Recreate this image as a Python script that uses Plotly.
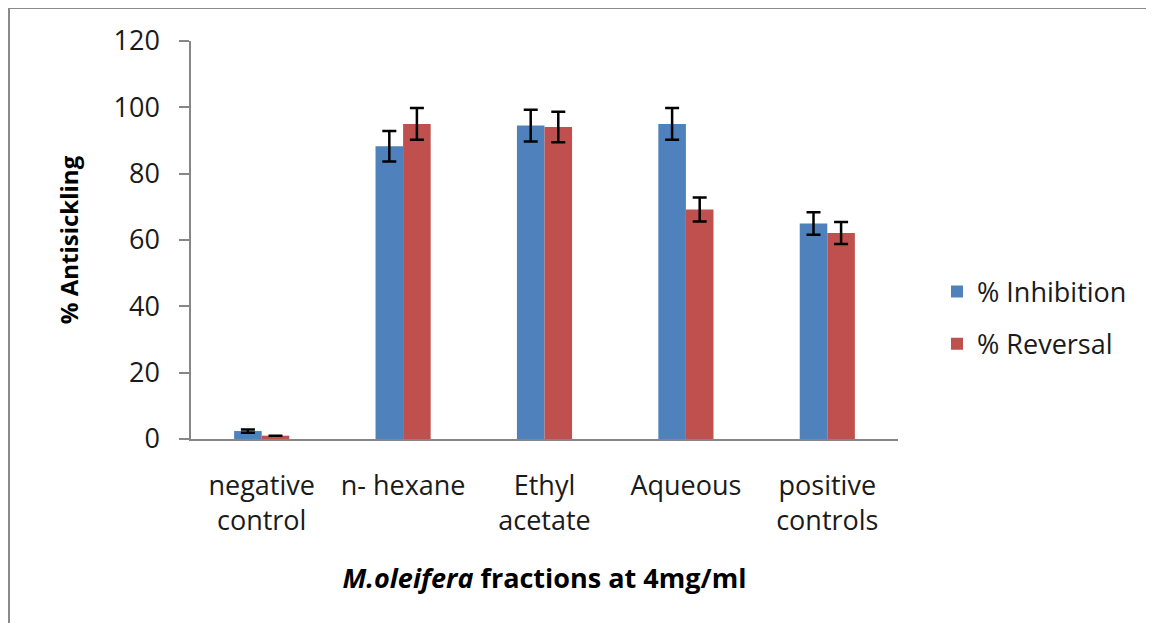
import plotly.graph_objects as go

categories = ["negative<br>control", "n- hexane", "Ethyl<br>acetate", "Aqueous", "positive<br>controls"]
inhibition = [2.4, 88.3, 94.5, 95.0, 65.0]
inhibition_err = [0.5, 4.6, 4.8, 4.8, 3.4]
reversal = [1.0, 95.0, 94.1, 69.2, 62.1]
reversal_err = [0.0, 4.8, 4.6, 3.6, 3.3]

FONT = "Open Sans"
GRAY = "#868686"
TXT = "#1a1a1a"

fig = go.Figure()
fig.add_trace(go.Bar(
    x=categories, y=inhibition, name="% Inhibition",
    marker=dict(color="#4F81BD", line=dict(width=0)),
    error_y=dict(type="data", array=inhibition_err, visible=True,
                 color="black", thickness=2.5, width=7),
    legendgroup="a",
))
fig.add_trace(go.Bar(
    x=categories, y=reversal, name="% Reversal",
    marker=dict(color="#C0504D", line=dict(width=0)),
    error_y=dict(type="data", array=reversal_err, visible=True,
                 color="black", thickness=2.5, width=7),
    legendgroup="b",
))

# figure is placed at an 8px body offset in the page
W, H = 1146, 615
L, R, T, B = 183, 256, 33, 184
pw, ph = W - L - R, H - T - B

fig.update_layout(
    width=W, height=H,
    margin=dict(l=L, r=R, t=T, b=B, pad=0),
    paper_bgcolor="white", plot_bgcolor="white",
    barmode="group", bargap=0.61, bargroupgap=0,
    font=dict(family=FONT, size=27, color=TXT),
    showlegend=True,
    legend=dict(
        x=(929 - L) / pw, y=(431 - 310) / ph, xanchor="left", yanchor="middle",
        font=dict(family=FONT, size=27, color=TXT),
        traceorder="grouped", tracegroupgap=14,
        bgcolor="rgba(0,0,0,0)",
    ),
    xaxis=dict(
        showline=True, linecolor=GRAY, linewidth=1.5,
        ticks="", tickfont=dict(family=FONT, size=27, color=TXT),
        ticklabelstandoff=22,
        title=dict(text="<b><i>M.oleifera</i> fractions at 4mg/ml</b>",
                   font=dict(family=FONT, size=27, color="black"), standoff=32),
        showgrid=False, zeroline=False,
    ),
    yaxis=dict(
        range=[0, 120], tickvals=[0, 20, 40, 60, 80, 100, 120],
        showline=True, linecolor=GRAY, linewidth=1.5,
        ticks="outside", ticklen=10, tickcolor=GRAY, tickwidth=1.5,
        tickfont=dict(family=FONT, size=27, color=TXT),
        ticklabelstandoff=14,
        title=dict(text="<b>% Antisickling</b>",
                   font=dict(family=FONT, size=24, color="black"), standoff=28),
        showgrid=False, zeroline=False,
    ),
    shapes=[
        dict(type="line", xref="paper", yref="paper",
             x0=(0 - L) / pw, x1=(W - L) / pw, y0=(431 + 0.5) / ph, y1=(431 + 0.5) / ph,
             line=dict(color="#8a8a8a", width=3)),
        dict(type="line", xref="paper", yref="paper",
             x0=(0.5 - L) / pw, x1=(0.5 - L) / pw, y0=(431 + 0.5) / ph, y1=(431 - H) / ph,
             line=dict(color="#8a8a8a", width=3)),
    ],
)

fig.write_html("out.html")
